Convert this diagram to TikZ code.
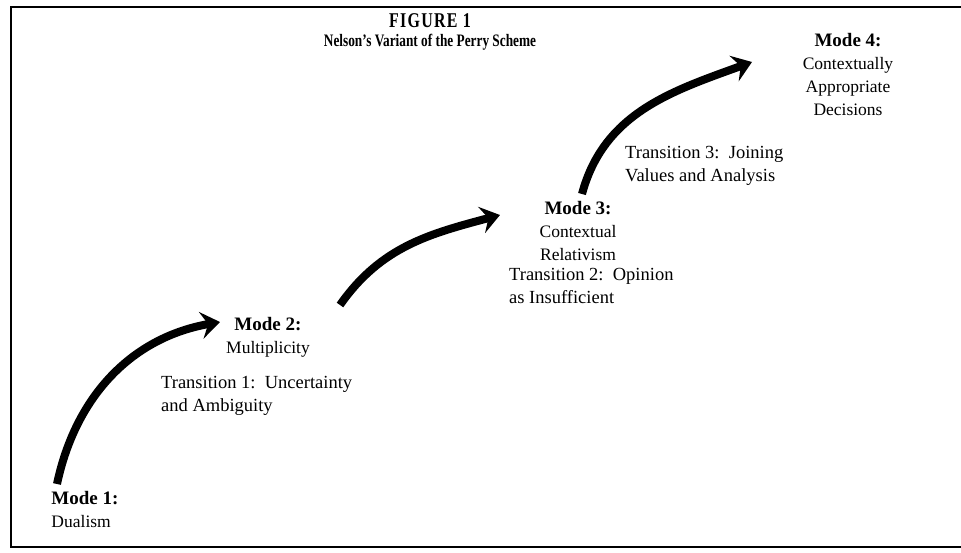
\documentclass[tikz,border=0pt]{standalone}
\usepackage{fontspec}
\setmainfont{Liberation Serif}
\usetikzlibrary{arrows.meta,positioning}

\newcommand{\modelabel}[1]{{\fontsize{19}{23}\selectfont\bfseries Mode #1:}}

\begin{document}
\begin{tikzpicture}[x=1pt,y=1pt,
  txt/.style={font=\fontsize{17.5}{23}\selectfont, inner sep=0pt},
  modebox/.style={txt, align=center},
  transbox/.style={font=\fontsize{18.5}{23}\selectfont, inner sep=0pt, align=left, anchor=west},
  stage/.style={line width=8pt, -{Stealth[length=19pt,width=27pt,inset=7pt]}}]
\useasboundingbox (0,0) rectangle (961,552);
\draw[line width=2.5pt] (961,545) -- (11,545) -- (11,5) -- (961,5);

\node[font=\fontsize{17.5}{19}\selectfont\bfseries, inner sep=0pt, align=center, xscale=0.76] (title) at (430,520)
  {{\fontsize{21}{19}\selectfont\addfontfeature{LetterSpace=8}FIGURE 1}\\Nelson's Variant of the Perry Scheme};

\node[modebox, align=left] (m1) at (85,43) {\modelabel{1}\\Dualism};
\node[modebox] (m2) at (268,215) {\modelabel{2}\\Multiplicity};
\node[modebox] (m3) at (578,321) {\modelabel{3}\\Contextual\\Relativism};
\node[modebox] (m4) at (848,478) {\modelabel{4}\\Contextually\\Appropriate\\Decisions};

\node[transbox] (t1) at (161,156) {Transition 1:\ \ Uncertainty\\and Ambiguity};
\node[transbox] (t2) at (509,266) {Transition 2:\ \ Opinion\\as Insufficient};
\node[transbox] (t3) at (625,386) {Transition 3:\ \ Joining\\Values and Analysis};

\coordinate (s1) at (57,68);   \coordinate (e1) at (220,230);
\coordinate (s2) at (340,247); \coordinate (e2) at (500,337);
\coordinate (s3) at (582,358); \coordinate (e3) at (752,490);
\draw[stage] (s1) to[out=78,in=190] (e1);
\draw[stage] (s2) to[out=55,in=195] (e2);
\draw[stage] (s3) to[out=75,in=200] (e3);
\end{tikzpicture}
\end{document}
